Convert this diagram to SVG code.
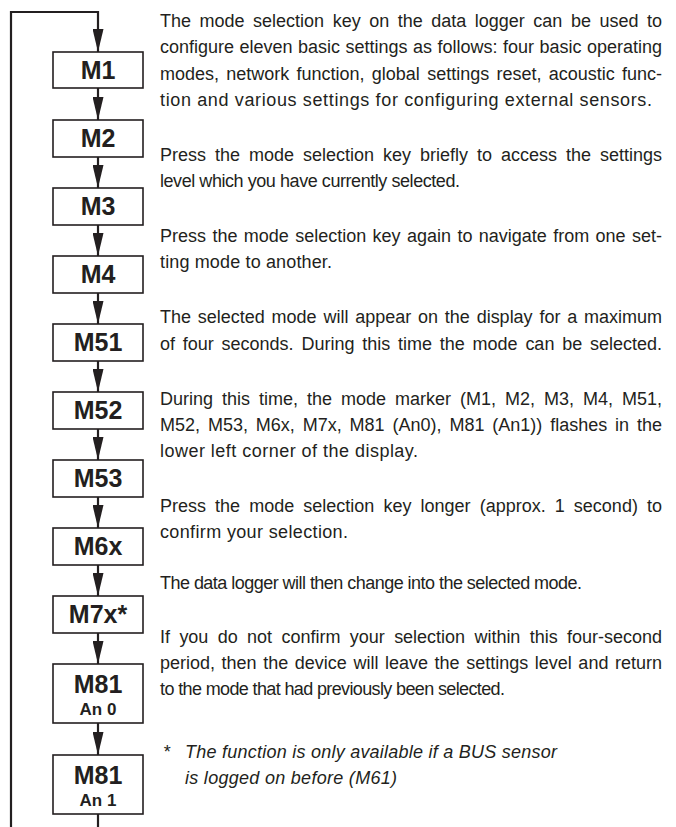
<svg xmlns="http://www.w3.org/2000/svg" width="676" height="827" viewBox="0 0 676 827">
<style>
.box{fill:#fff;stroke:#231f20;stroke-width:1.6}
.lbl{font-family:"Liberation Sans",Arial,sans-serif;font-weight:bold;font-size:25px;fill:#231f20;text-anchor:middle}
.sub{font-family:"Liberation Sans",Arial,sans-serif;font-weight:bold;font-size:17px;fill:#231f20;text-anchor:middle}
.conn{fill:none;stroke:#231f20;stroke-width:2.2}
.txt{font-family:"Liberation Sans",Arial,sans-serif;font-size:18px;fill:#231f20}
.it{font-style:italic}
</style>
<defs>
<marker id="ah" markerUnits="userSpaceOnUse" markerWidth="23" markerHeight="11" refX="23" refY="5.5" orient="auto">
<path d="M0,0 L23,5.5 L0,11 Z" fill="#231f20"/>
</marker>
</defs>
<g id="connectors">
<path class="conn" d="M11,827 V12 H98 V52" marker-end="url(#ah)"/>
<path class="conn" d="M98,88 V120" marker-end="url(#ah)"/>
<path class="conn" d="M98,157 V188" marker-end="url(#ah)"/>
<path class="conn" d="M98,225 V256" marker-end="url(#ah)"/>
<path class="conn" d="M98,293 V324" marker-end="url(#ah)"/>
<path class="conn" d="M98,361 V392" marker-end="url(#ah)"/>
<path class="conn" d="M98,429 V460" marker-end="url(#ah)"/>
<path class="conn" d="M98,497 V528" marker-end="url(#ah)"/>
<path class="conn" d="M98,565 V596" marker-end="url(#ah)"/>
<path class="conn" d="M98,633 V664" marker-end="url(#ah)"/>
<path class="conn" d="M98,723 V755" marker-end="url(#ah)"/>
<path class="conn" d="M98,814 V827"/>
</g>
<g id="M1"><rect class="box" x="53" y="52" width="90" height="36"/><text class="lbl" x="98" y="79">M1</text></g>
<g id="M2"><rect class="box" x="53" y="120" width="90" height="37"/><text class="lbl" x="98" y="147">M2</text></g>
<g id="M3"><rect class="box" x="53" y="188" width="90" height="37"/><text class="lbl" x="98" y="215">M3</text></g>
<g id="M4"><rect class="box" x="53" y="256" width="90" height="37"/><text class="lbl" x="98" y="283">M4</text></g>
<g id="M51"><rect class="box" x="53" y="324" width="90" height="37"/><text class="lbl" x="98" y="351">M51</text></g>
<g id="M52"><rect class="box" x="53" y="392" width="90" height="37"/><text class="lbl" x="98" y="419">M52</text></g>
<g id="M53"><rect class="box" x="53" y="460" width="90" height="37"/><text class="lbl" x="98" y="487">M53</text></g>
<g id="M6x"><rect class="box" x="53" y="528" width="90" height="37"/><text class="lbl" x="98" y="555">M6x</text></g>
<g id="M7x"><rect class="box" x="53" y="596" width="90" height="37"/><text class="lbl" x="98" y="623">M7x*</text></g>
<g id="M81An0"><rect class="box" x="53" y="664" width="90" height="59"/><text class="lbl" x="98" y="693">M81</text><text class="sub" x="98" y="715">An 0</text></g>
<g id="M81An1"><rect class="box" x="53" y="755" width="90" height="59"/><text class="lbl" x="98" y="784">M81</text><text class="sub" x="98" y="806">An 1</text></g>
<g id="text">
<text class="txt" x="160" y="27" word-spacing="3.5" textLength="502" lengthAdjust="spacing">The mode selection key on the data logger can be used to</text>
<text class="txt" x="160" y="53.3" word-spacing="0.5" textLength="502" lengthAdjust="spacing">configure eleven basic settings as follows: four basic operating</text>
<text class="txt" x="160" y="79.5" word-spacing="2.3" textLength="502" lengthAdjust="spacing">modes, network function, global settings reset, acoustic func-</text>
<text class="txt" x="160" y="105.8" textLength="492" lengthAdjust="spacing">tion and various settings for configuring external sensors.</text>
<text class="txt" x="160" y="160.8" word-spacing="4" textLength="502" lengthAdjust="spacing">Press the mode selection key briefly to access the settings</text>
<text class="txt" x="160" y="187" textLength="300" lengthAdjust="spacing">level which you have currently selected.</text>
<text class="txt" x="160" y="242" word-spacing="1.4" textLength="502" lengthAdjust="spacing">Press the mode selection key again to navigate from one set-</text>
<text class="txt" x="160" y="268.3" textLength="172" lengthAdjust="spacing">ting mode to another.</text>
<text class="txt" x="160" y="323.3" word-spacing="1.8" textLength="502" lengthAdjust="spacing">The selected mode will appear on the display for a maximum</text>
<text class="txt" x="160" y="349.5" word-spacing="2.8" textLength="502" lengthAdjust="spacing">of four seconds. During this time the mode can be selected.</text>
<text class="txt" x="160" y="404.5" word-spacing="4" textLength="502" lengthAdjust="spacing">During this time, the mode marker (M1, M2, M3, M4, M51,</text>
<text class="txt" x="160" y="430.8" word-spacing="2.9" textLength="502" lengthAdjust="spacing">M52, M53, M6x, M7x, M81 (An0), M81 (An1)) flashes in the</text>
<text class="txt" x="160" y="457" textLength="258" lengthAdjust="spacing">lower left corner of the display.</text>
<text class="txt" x="160" y="512" word-spacing="4.1" textLength="502" lengthAdjust="spacing">Press the mode selection key longer (approx. 1 second) to</text>
<text class="txt" x="160" y="538.3" textLength="188" lengthAdjust="spacing">confirm your selection.</text>
<text class="txt" x="160" y="589" textLength="422" lengthAdjust="spacing">The data logger will then change into the selected mode.</text>
<text class="txt" x="160" y="643" word-spacing="4.4" textLength="502" lengthAdjust="spacing">If you do not confirm your selection within this four-second</text>
<text class="txt" x="160" y="669" word-spacing="1.6" textLength="502" lengthAdjust="spacing">period, then the device will leave the settings level and return</text>
<text class="txt" x="160" y="695" textLength="345" lengthAdjust="spacing">to the mode that had previously been selected.</text>
<text class="txt it" x="163" y="757.5">*</text>
<text class="txt it" x="185" y="757.5" textLength="372" lengthAdjust="spacing">The function is only available if a BUS sensor</text>
<text class="txt it" x="185" y="783.8" textLength="212" lengthAdjust="spacing">is logged on before (M61)</text>
</g>
</svg>
